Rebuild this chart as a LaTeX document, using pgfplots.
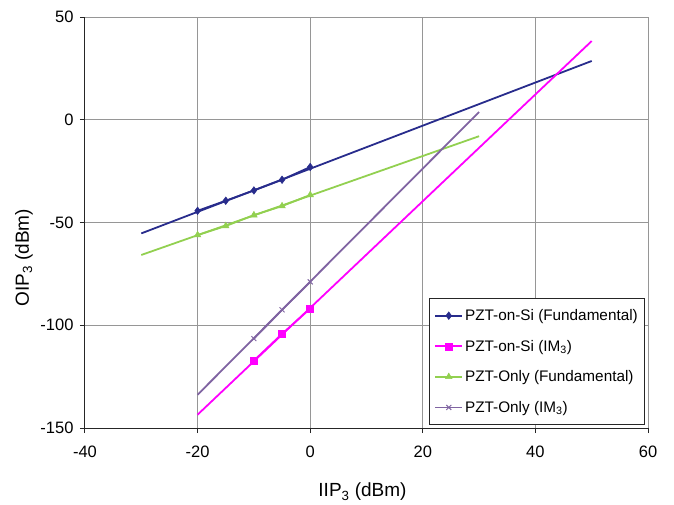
\documentclass[border=0pt]{standalone}
\usepackage{fontspec}
\setmainfont{Liberation Sans}
\usepackage{pgfplots}
\pgfplotsset{compat=1.18}
\definecolor{cblue}{RGB}{40,44,140}
\definecolor{cmag}{RGB}{255,0,255}
\definecolor{cgreen}{RGB}{146,208,80}
\definecolor{cpurp}{RGB}{128,100,162}
\definecolor{cgrid}{RGB}{150,150,150}
\begin{document}
\begin{tikzpicture}
\useasboundingbox (-85pt,-76pt) rectangle (589pt,428pt);
\begin{axis}[
  at={(0pt,0pt)}, anchor=south west,
  scale only axis, width=563pt, height=411pt,
  xmin=-40, xmax=60, ymin=-150, ymax=50,
  xtick={-40,-20,0,20,40,60},
  ytick={-150,-100,-50,0,50},
  axis lines*=left,
  axis line style={black!85, line width=1pt, -},
  grid=major,
  major grid style={cgrid, line width=1pt},
  tick align=outside,
  major tick length=5pt,
  tick style={black!85, line width=1pt},
  /pgf/number format/assume math mode=true,
  ticklabel style={font=\fontsize{16.5}{19}\selectfont},
  yticklabel style={xshift=-3pt},
  xticklabel style={yshift=-9pt},
  every axis x label/.style={at={(rel axis cs:0.5,0)}, anchor=center, yshift=-64pt, xshift=-4pt},
  every axis y label/.style={at={(rel axis cs:0,0.414)}, xshift=-61pt, rotate=90, anchor=center},
  label style={font=\fontsize{19}{22}\selectfont},
  xlabel={IIP\textsubscript{3} (dBm)},
  ylabel={OIP\textsubscript{3} (dBm)},
  legend style={at={(rel axis cs:0.995,0.007)}, anchor=south east,
    draw=black!85, line width=0.8pt, fill=white,
    font=\fontsize{15.3}{17}\selectfont, row sep=14pt,
    inner xsep=5pt, inner ysep=9pt},
  legend cell align=left,
  legend image code/.code={\draw[sharp plot,mark repeat=2,mark phase=2] plot coordinates {(0pt,0pt) (13.5pt,0pt) (27pt,0pt)};},
]
% trend lines
\addplot[forget plot, cblue, line width=1.8pt] coordinates {(-30,-55.3) (50,28.6)};
\addplot[forget plot, cmag, line width=1.8pt] coordinates {(-20,-143.5) (50,38.3)};
\addplot[forget plot, cgreen, line width=1.8pt] coordinates {(-30,-65.8) (30,-8.0)};
\addplot[forget plot, cpurp, line width=1.8pt] coordinates {(-20,-133.8) (30,3.8)};
% data
\addplot[cblue, line width=1.8pt, mark=diamond*, mark size=3.8pt, mark options={solid, fill=cblue, line width=0.5pt}]
  coordinates {(-20,-44.3) (-15,-39.4) (-10,-34.4) (-5,-29.2) (0,-23.0)};
\addlegendentry{PZT-on-Si (Fundamental)}
\addplot[cmag, line width=1.8pt, mark=square*, mark size=3.5pt, mark options={solid, fill=cmag, line width=0.5pt}]
  coordinates {(-10,-117.2) (-5,-104.2) (0,-91.9)};
\addlegendentry{PZT-on-Si (IM\textsubscript{3})}
\addplot[cgreen, line width=1.8pt, mark=triangle*, mark size=3.8pt, mark options={solid, fill=cgreen, line width=0.5pt}]
  coordinates {(-20,-56.1) (-15,-51.7) (-10,-46.4) (-5,-42.0) (0,-36.6)};
\addlegendentry{PZT-Only (Fundamental)}
\addplot[cpurp, line width=1.8pt, mark=x, mark size=3.5pt, mark options={solid, line width=1pt}]
  coordinates {(-10,-106.5) (-5,-92.5) (0,-78.9)};
\addlegendentry{PZT-Only (IM\textsubscript{3})}
\end{axis}
\end{tikzpicture}
\end{document}
